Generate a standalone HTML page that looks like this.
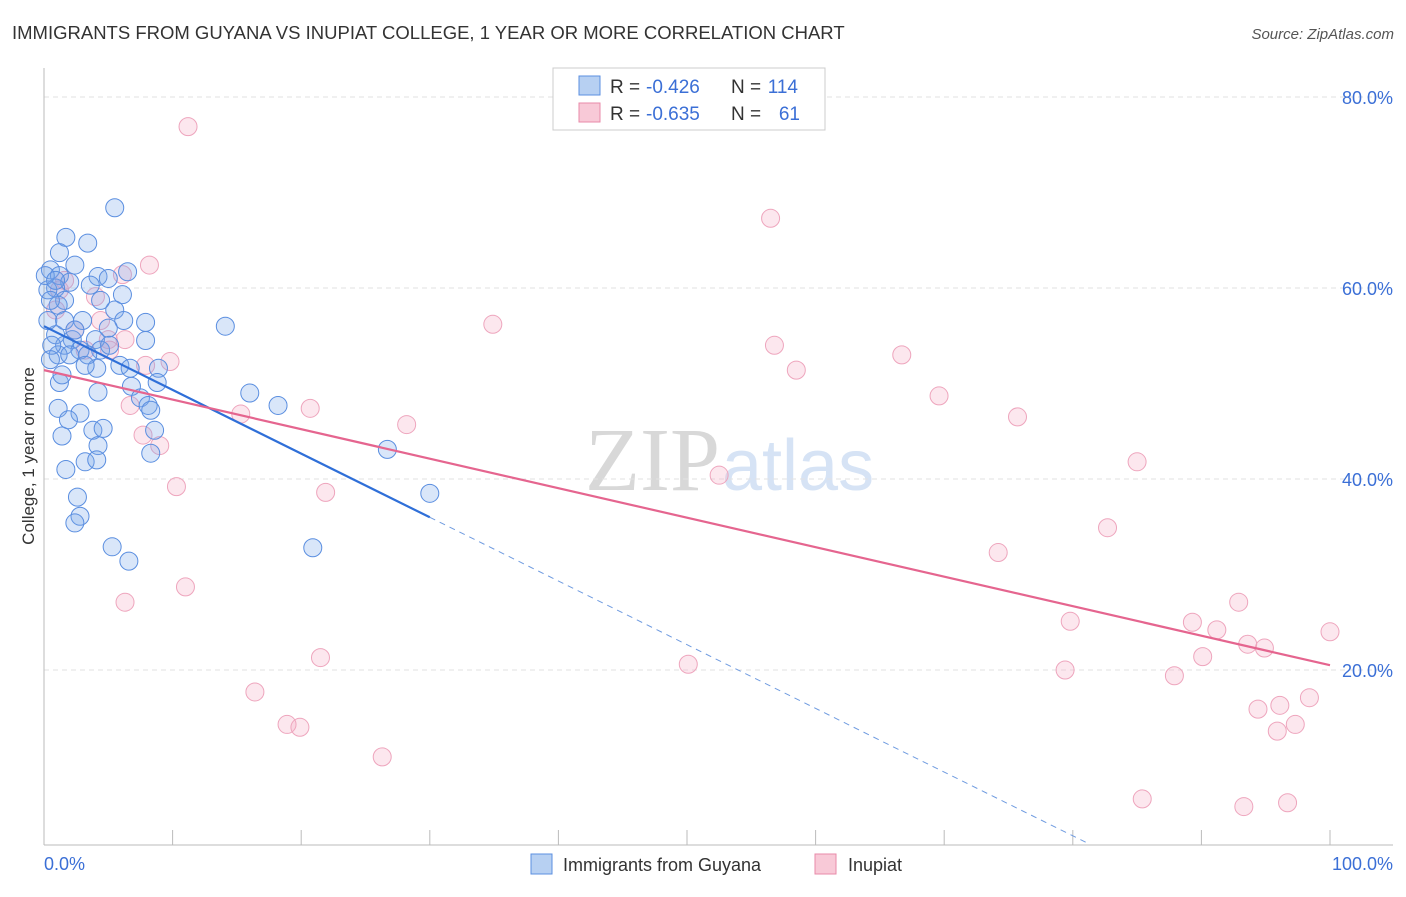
<!DOCTYPE html>
<html><head><meta charset="utf-8"><style>
body{margin:0;background:#fff;font-family:"Liberation Sans",sans-serif;}
</style></head><body>
<svg id="c" width="1406" height="892" xmlns="http://www.w3.org/2000/svg">
<text x="12" y="39" font-size="18.5" fill="#333">IMMIGRANTS FROM GUYANA VS INUPIAT COLLEGE, 1 YEAR OR MORE CORRELATION CHART</text>
<text x="1394" y="39" font-size="15" fill="#555" font-style="italic" text-anchor="end">Source: ZipAtlas.com</text>
<text x="720" y="490" font-size="90" fill="#d8d8d8" text-anchor="end" font-family="Liberation Serif">ZIP</text>
<text x="722" y="490" font-size="72" fill="#d6e3f5">atlas</text>
<g id="grid"></g>
<g id="axes"></g>
<g id="pts"></g>
<g id="lines"></g>
<text x="34" y="456" font-size="17" fill="#333" transform="rotate(-90 34 456)" text-anchor="middle">College, 1 year or more</text>
<g>
<rect x="553" y="68" width="272" height="62" fill="#fff" stroke="#ccc"/>
<rect x="579" y="76" width="21" height="19" fill="#b7d0f2" stroke="#5b8fe0"/>
<rect x="579" y="103" width="21" height="19" fill="#f8c9d7" stroke="#e88aa8"/>
<text x="610" y="93" font-size="19" fill="#333">R =</text>
<text x="646" y="93" font-size="19" fill="#3b6fd6">-0.426</text>
<text x="731" y="93" font-size="19" fill="#333">N =</text>
<text x="798" y="93" font-size="19" fill="#3b6fd6" text-anchor="end">114</text>
<text x="610" y="120" font-size="19" fill="#333">R =</text>
<text x="646" y="120" font-size="19" fill="#3b6fd6">-0.635</text>
<text x="731" y="120" font-size="19" fill="#333">N =</text>
<text x="800" y="120" font-size="19" fill="#3b6fd6" text-anchor="end">61</text>
</g>
<g>
<rect x="531" y="854" width="21" height="20" fill="#b7d0f2" stroke="#5b8fe0"/>
<text x="563" y="871" font-size="18" fill="#333">Immigrants from Guyana</text>
<rect x="815" y="854" width="21" height="20" fill="#f8c9d7" stroke="#e88aa8"/>
<text x="848" y="871" font-size="18" fill="#333">Inupiat</text>
</g>
</svg>
<script>
const blueX=[5.5,1.7,3.4,1.2,2.4,0.5,1.2,4.2,5.0,6.5,2.0,0.9,0.3,6.1,1.6,1.1,5.5,3.0,7.9,6.2,5.0,14.1,0.9,2.2,4.0,7.9,1.6,2.8,4.4,5.1,1.1,3.4,5.9,4.1,6.7,8.9,1.2,6.8,8.8,4.2,7.5,16.0,18.2,8.1,8.3,1.1,2.8,1.9,3.8,4.6,8.6,1.4,4.2,8.3,26.7,3.2,4.1,1.7,30.0,2.6,2.8,2.4,5.3,20.9,6.6,0.1,0.5,0.3,0.6,2.0,3.2,1.4,0.9,3.6,4.4,1.6,2.4,0.5];
const blueY=[68.4,65.3,64.7,63.7,62.4,61.9,61.3,61.2,61.0,61.7,60.6,60.0,59.8,59.3,58.7,58.2,57.7,56.6,56.4,56.6,55.8,56.0,55.1,54.6,54.6,54.5,54.0,53.5,53.5,54.0,53.0,53.0,51.9,51.6,51.6,51.6,50.1,49.7,50.1,49.1,48.5,49.0,47.7,47.7,47.2,47.4,46.9,46.2,45.1,45.3,45.1,44.5,43.5,42.7,43.1,41.8,42.0,41.0,38.5,38.1,36.1,35.4,32.9,32.8,31.4,61.3,58.7,56.6,54.0,53.0,51.9,50.9,60.8,60.3,58.7,56.6,55.6,52.5];
const pinkX=[11.2,56.5,8.2,6.1,4.0,34.9,56.8,66.7,7.9,9.8,58.5,69.6,75.7,15.3,20.7,28.2,7.7,9.0,85.0,52.5,10.3,21.9,82.7,74.2,6.3,11.0,92.9,79.8,89.3,91.2,100,93.6,94.9,21.5,50.1,90.1,79.4,87.9,16.4,98.4,96.1,94.4,97.3,95.9,18.9,19.9,26.3,85.4,93.3,96.7,6.7,4.4,5.0,1.2,2.4,3.2,1.6,6.3,5.1,0.9];
const pinkY=[76.9,67.3,62.4,61.4,59.1,56.2,54.0,53.0,51.9,52.3,51.4,48.7,46.5,46.8,47.4,45.7,44.6,43.5,41.8,40.4,39.2,38.6,34.9,32.3,27.1,28.7,27.1,25.1,25.0,24.2,24.0,22.7,22.3,21.3,20.6,21.4,20.0,19.4,17.7,17.1,16.3,15.9,14.3,13.6,14.3,14.0,10.9,6.5,5.7,6.1,47.7,56.6,54.6,59.8,55.6,53.5,60.8,54.6,53.5,57.7];
const yTicks=[20,40,60,80];
const blueTrend=[56.0,-0.667];
const pinkTrend=[51.4,-0.309];
const NS="http://www.w3.org/2000/svg";
const X=v=>44+v*12.86, Y=v=>861-v*9.55;
function mk(t,a,p){const e=document.createElementNS(NS,t);for(const k in a)e.setAttribute(k,a[k]);document.getElementById(p).appendChild(e);return e;}
yTicks.forEach(t=>{
 const l=mk('line',{x1:44,x2:1393,y1:Y(t),y2:Y(t),stroke:'#e2e2e2','stroke-dasharray':'5,4'},'grid');
 
 
 const tx=mk('text',{x:1393,y:Y(t)+7,'font-size':18,fill:'#3b6fd6','text-anchor':'end'},'grid');
 tx.textContent=t.toFixed(1)+'%';
 
 
});
mk('line',{x1:44,x2:44,y1:68,y2:845,stroke:'#bbb'},'axes');
mk('line',{x1:44,x2:1393,y1:845,y2:845,stroke:'#bbb'},'axes');
for(let i=1;i<=10;i++){const t=mk('line',{x1:X(i*10),x2:X(i*10),y1:830,y2:845,stroke:'#bbb'},'axes');
 
 }
let a=mk('text',{x:44,y:870,'font-size':18,fill:'#3b6fd6'},'axes');a.textContent='0.0%';


a=mk('text',{x:1393,y:870,'font-size':18,fill:'#3b6fd6','text-anchor':'end'},'axes');a.textContent='100.0%';


function pts(xs,ys,f,s,n){xs.forEach((x,i)=>{const c=mk('circle',{cx:X(x),cy:Y(ys[i]),r:9,fill:f,stroke:s,'stroke-width':1},'pts');
 
 });}
pts(pinkX,pinkY,'rgba(244,170,195,0.28)','#eea5bd','inupiat-point');
pts(blueX,blueY,'rgba(120,165,235,0.28)','#5a8ee0','guyana-point');
const f=(t,x)=>t[0]+t[1]*x;
let l=mk('line',{x1:X(0),y1:Y(f(blueTrend,0)),x2:X(30),y2:Y(f(blueTrend,30)),stroke:'#2f6fd8','stroke-width':2.2},'lines');


l=mk('line',{x1:X(30),y1:Y(f(blueTrend,30)),x2:X(81),y2:Y(f(blueTrend,81)),stroke:'#6f9be0','stroke-width':1,'stroke-dasharray':'6,5'},'lines');


l=mk('line',{x1:X(0),y1:Y(f(pinkTrend,0)),x2:X(100),y2:Y(f(pinkTrend,100)),stroke:'#e5658f','stroke-width':2.2},'lines');


</script>
</body></html>
